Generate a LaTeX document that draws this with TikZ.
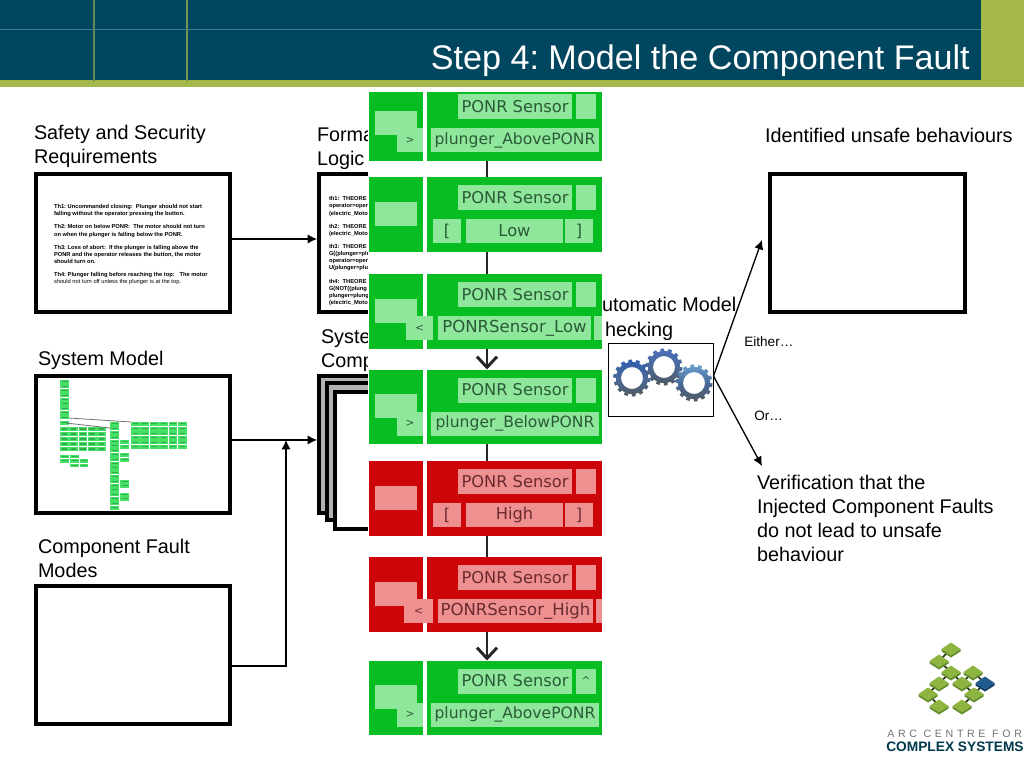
\documentclass[tikz,border=0pt]{standalone}
\usepackage{fontspec}
\setmainfont{Liberation Sans}
\newfontfamily\blockfont{DejaVu Sans}
\newfontfamily\arcfont[LetterSpace=34]{Liberation Sans}
\usetikzlibrary{arrows.meta}
\definecolor{headblue}{HTML}{00465F}
\definecolor{olive}{HTML}{A4B84C}
\definecolor{gdark}{HTML}{06BE22}
\definecolor{glight}{HTML}{8FE79B}
\definecolor{rdark}{HTML}{CC0508}
\definecolor{rlight}{HTML}{EE9090}
\definecolor{gtext}{HTML}{2B5A38}
\definecolor{rtext}{HTML}{6A2A30}
\definecolor{cell}{HTML}{45E065}
\definecolor{celld}{HTML}{2FB04A}
\definecolor{leaf}{HTML}{8DB53F}
\definecolor{leafd}{HTML}{668F2E}
\definecolor{leafblue}{HTML}{1F5B8F}
\definecolor{leafblued}{HTML}{123F66}
\definecolor{gearA}{HTML}{2F5FB0}
\definecolor{gearB}{HTML}{4A70B8}
\definecolor{gearC}{HTML}{6A9FD0}
\definecolor{gearMid}{HTML}{4A6A98}
\definecolor{gearLow}{HTML}{50585E}
\tikzset{
  frame/.style={draw=black,line width=3pt,fill=white,outer sep=1.5pt,inner sep=0pt},
  stackframe/.style={frame,fill=black!30},
  fillbox/.style={inner sep=0pt,outer sep=0pt},
  label/.style={inner sep=0pt,outer sep=0pt,anchor=north west,align=left,font=\fontsize{14.85}{18}\selectfont},
  tiny/.style={inner sep=0pt,outer sep=0pt,anchor=north west,align=left,font=\fontsize{4.3}{5.4}\selectfont\bfseries},
  smalllabel/.style={inner sep=0pt,anchor=base west,font=\fontsize{10.2}{11}\selectfont},
  flow/.style={draw=black!85,line width=2.2pt},
  flowhead/.style={flow,-{Straight Barb[length=8pt,width=15pt,line width=2.2pt]}},
  conn/.style={draw=black,line width=1pt,-{Latex[length=7pt,width=7pt]}},
}
\newcommand\rbx[7]{%
  \pgfmathsetmacro\rbw{(#5-#3)*0.75}\pgfmathsetmacro\rbh{(#6-#4)*0.75}%
  \node[#1,minimum width=\rbw pt,minimum height=\rbh pt] (#2) at ({(#3+#5)/2},{(#4+#6)/2}) {#7};}
\newcommand\ponrbase[6]{%
  \pgfmathsetmacro\ptt{#2}\pgfmathsetmacro\pbb{#2+74.5}%
  \pgfmathsetmacro\pss{#2+8}\pgfmathsetmacro\pee{#2+33}%
  \pgfmathsetmacro\prr{#2+42}\pgfmathsetmacro\pqq{#2+66}%
  \pgfmathsetmacro\pll{#2+24.5}\pgfmathsetmacro\pmm{#2+48.5}%
  \def\pdark{#3}\def\plight{#4}\def\ptext{#5}%
  \rbx{fillbox,fill=#3}{#1-left}{369}{\ptt}{423}{\pbb}{}
  \rbx{fillbox,fill=#3}{#1-right}{427}{\ptt}{602}{\pbb}{}
  \rbx{fillbox,fill=#4,text=#5,font=\blockfont\fontsize{12.2}{13}\selectfont}{#1-sensor}{458}{\pss}{572}{\pee}{PONR Sensor}
  \rbx{fillbox,fill=#4,text=#5,font=\blockfont\fontsize{8}{9}\selectfont}{#1-small}{576}{\pss}{596}{\pee}{#6}
  \coordinate (#1-t) at (487,\ptt);
  \coordinate (#1-b) at (487,\pbb);
  \def\pname{#1}%
}
\newcommand\ponrgt[2]{%
  \rbx{fillbox,fill=\plight}{\pname-la}{375}{\pll}{417}{\pmm}{}
  \rbx{fillbox,fill=\plight,text=\ptext,font=\blockfont\fontsize{8}{9}\selectfont}{\pname-lb}{397}{\prr}{423}{\pqq}{>}
  \rbx{fillbox,fill=\plight,text=\ptext,font=\blockfont\fontsize{11.7}{12}\selectfont}{\pname-row}{431}{\prr}{#1}{\pqq}{#2}
}
\newcommand\ponrbr[1]{%
  \rbx{fillbox,fill=\plight}{\pname-la}{375}{\pll}{417}{\pmm}{}
  \rbx{fillbox,fill=\plight,text=\ptext,font=\blockfont\fontsize{12.2}{13}\selectfont}{\pname-o}{433}{\prr}{461}{\pqq}{[}
  \rbx{fillbox,fill=\plight,text=\ptext,font=\blockfont\fontsize{12.2}{13}\selectfont}{\pname-v}{466}{\prr}{563}{\pqq}{#1}
  \rbx{fillbox,fill=\plight,text=\ptext,font=\blockfont\fontsize{12.2}{13}\selectfont}{\pname-c}{565}{\prr}{593}{\pqq}{]}
}
\newcommand\ponrlt[4]{%
  \rbx{fillbox,fill=\plight}{\pname-la}{375}{\pll}{417}{\pmm}{}
  \rbx{fillbox,fill=\plight,text=\ptext,font=\blockfont\fontsize{8}{9}\selectfont}{\pname-lb}{#1}{\prr}{433}{\pqq}{<}
  \rbx{fillbox,fill=\plight,text=\ptext,font=\blockfont\fontsize{12.4}{13}\selectfont}{\pname-row}{#2}{\prr}{#3}{\pqq}{#4}
  \pgfmathsetmacro\pxx{#3+3}%
  \rbx{fillbox,fill=\plight}{\pname-end}{\pxx}{\prr}{602}{\pqq}{}
}
\newcommand\gearat[3]{%
  \path[even odd rule,top color=#3,bottom color=gearLow,middle color=gearMid]
    plot[variable=\t,samples=281,domain=0:360]
      ({#1+(sin(14*\t)>0?18.5:16)*cos(\t)},{#2+(sin(14*\t)>0?18.5:16)*sin(\t)}) -- cycle
    (#1,#2) circle[radius=11];}
\newcommand\leafat[4]{%
  \fill[#4] (#1-9.5,#2) -- (#1,#2+6) -- (#1+9.5,#2) -- (#1+9.5,#2+2.5) -- (#1,#2+8.5) -- (#1-9.5,#2+2.5) -- cycle;
  \fill[#3] (#1-9.5,#2) -- (#1,#2-6.5) -- (#1+9.5,#2) -- (#1,#2+6) -- cycle;}
% one thumbnail cell: x, y, width, height
\newcommand\tcell[4]{%
  \fill[cell] ({#1},{#2}) rectangle ({#1+#3},{#2+#4});
  \fill[celld] ({#1+1.5},{#2+1.4}) rectangle ({#1+#3-1.5},{#2+#4-1.6});}
\begin{document}
\frenchspacing
\begin{tikzpicture}[x=0.75pt,y=-0.75pt]
\useasboundingbox (0,0) rectangle (1024,768);
\fill[white] (0,0) rectangle (1024,768);
% left column
\node[label] (safetylbl) at (34,125.5) {Safety and Security\\Requirements};
\rbx{frame}{safety}{36}{174}{230}{312}{}
\node[tiny] (safetytxt) at (54,204.5) {Th1: Uncommanded closing:~~Plunger should not start\\falling without the operator pressing the button.\\[4.4pt]Th2: Motor on below PONR:~~The motor should not turn\\on when the plunger is falling below the PONR.\\[4.4pt]Th3: Loss of abort:~~If the plunger is falling above the\\PONR and the operator releases the button, the motor\\should turn on.\\[4.4pt]Th4: Plunger falling before reaching the top:~~~The motor\\\mdseries should not turn off unless the plunger is at the top.};
\node[label] (sysmlbl) at (38,351.5) {System Model};
\rbx{frame}{sysmodel}{36}{376}{230}{513}{}
% thumbnail of the system model
\foreach \i in {0,...,8} {\tcell{60}{380+\i*4.4}{9}{4}}
\tcell{60}{420.5}{9}{4.5}
\foreach \r in {0,...,4} {\foreach \c in {0,...,4} {\tcell{60+\c*9.3}{427+\r*5}{8.6}{4.3}}}
\foreach \r in {0,...,5} {\foreach \c in {0,...,5} {\tcell{131+\c*9.4}{422+\r*4.6}{8.7}{4}}}
\foreach \r in {0,...,19} {\tcell{110}{422+\r*4.4}{9}{4}}
\foreach \y in {440,444.5,453,457.5,479.5,484,492.5,497} {\tcell{120}{\y}{9}{4}}
\tcell{60}{454.5}{9}{3.5}\tcell{70}{454.5}{9}{3.5}
\tcell{60}{459}{9}{3.5}\tcell{70}{459}{9}{3.5}\tcell{80}{459}{8}{3.5}
\tcell{70}{463.5}{9}{3.5}\tcell{80}{463.5}{8}{3.5}
\draw[black!55,line width=.6pt] (69,418) -- (131,422) (66,423) -- (110,428);
\node[label] (faultlbl) at (38,539.5) {Component Fault\\Modes};
\rbx{frame}{faults}{36}{586}{230}{724}{}
% middle column
\node[label] (logiclbl) at (317,128) {Forma\\Logic};
\rbx{frame}{formal}{319}{174}{420}{312}{}
\node[tiny] (formaltxt) at (329,196.5) {th1:~~THEORE\\operator=oper\\(electric\_Moto\\[4.4pt]th2:~~THEORE\\(electric\_Moto\\[4.4pt]th3:~~THEORE\\G((plunger=plu\\operator=oper\\U(plunger=plu\\[4.4pt]th4:~~THEORE\\G(NOT((plung\\plunger=plung\\(electric\_Moto};
\node[label] (stacklbl) at (321,330) {Syste\\Comp};
\rbx{stackframe}{stacka}{319}{376}{420}{513}{}
\rbx{stackframe}{stackb}{327}{383}{420}{520}{}
\rbx{frame}{stackc}{335}{392}{420}{529}{}
\draw[conn] ([yshift=3pt]safety.east) -- ([yshift=3pt]formal.west);
\draw[conn] ([yshift=3.4pt]sysmodel.east) -- ([yshift=3.4pt]stacka.west);
\coordinate (joint) at (286,440);
\draw[conn] ([yshift=-8.25pt]faults.east) -| (joint);
% stack of blocks
\fill[white] (368,85) rectangle (604,739);
\ponrbase{b1}{86}{gdark}{glight}{gtext}{}\ponrgt{599}{plunger\_AbovePONR}
\fill[white] (368,85) rectangle (604,92);
\ponrbase{b2}{177}{gdark}{glight}{gtext}{}\ponrbr{Low}
\ponrbase{b3}{274}{gdark}{glight}{gtext}{}\ponrlt{406}{438}{591}{PONRSensor\_Low}
\ponrbase{b4}{369.5}{gdark}{glight}{gtext}{}\ponrgt{599}{plunger\_BelowPONR}
\ponrbase{b5}{461}{rdark}{rlight}{rtext}{}\ponrbr{High}
\ponrbase{b6}{557}{rdark}{rlight}{rtext}{}\ponrlt{404}{438}{593}{PONRSensor\_High}
\ponrbase{b7}{660.5}{gdark}{glight}{gtext}{\textasciicircum}\ponrgt{599}{plunger\_AbovePONR}
\draw[flow] (b1-b) -- (b2-t);
\draw[flow] (b2-b) -- (b3-t);
\draw[flowhead] (b3-b) -- (b4-t);
\draw[flow] (b4-b) -- (b5-t);
\draw[flow] (b5-b) -- (b6-t);
\draw[flowhead] (b6-b) -- (b7-t);
% model checking
\node[label] (mclbl) at (602,297) {utomatic Model};
\node[label] (mclblb) at (605,322) {hecking};
\rbx{draw=black,line width=.75pt,fill=white,inner sep=0pt,outer sep=0pt}{gears}{608}{343}{713.5}{416}{}
\gearat{632}{378}{gearA}
\gearat{664}{367}{gearB}
\gearat{694}{383}{gearC}
\coordinate (unsafein) at (762,240);
\coordinate (verifyin) at (762,466);
\draw[conn] ([yshift=2.6pt]gears.east) -- (unsafein);
\draw[conn] ([yshift=2.6pt]gears.east) -- (verifyin);
\node[smalllabel] (either) at (744,346) {Either…};
\node[smalllabel] (orlbl) at (754,420) {Or…};
% right column
\node[label] (unsafelbl) at (765,128) {Identified unsafe behaviours};
\rbx{frame}{unsafe}{770}{174}{965}{312}{}
\node[label] (verifylbl) at (757,475) {Verification that the\\Injected Component Faults\\do not lead to unsafe\\behaviour};
% logo
\draw[black!70!leafd,line width=1.2pt] (951,649)--(939,661)--(951,672)--(939,683)--(928,694)--(939,706)
  (951,672)--(962,683)--(973,672) (962,683)--(974,694)--(962,706) (973,672)--(985,683)--(974,694);
\leafat{951}{649}{leaf}{leafd}\leafat{939}{661}{leaf}{leafd}\leafat{951}{672}{leaf}{leafd}\leafat{973}{672}{leaf}{leafd}
\leafat{939}{683}{leaf}{leafd}\leafat{962}{683}{leaf}{leafd}\leafat{974}{694}{leaf}{leafd}\leafat{928}{694}{leaf}{leafd}
\leafat{939}{706}{leaf}{leafd}\leafat{962}{706}{leaf}{leafd}\leafat{985}{683}{leafblue}{leafblued}
\node[inner sep=0pt,anchor=base west,text=black!55,font=\arcfont\fontsize{8}{9}\selectfont] (arc) at (887,737) {ARC CENTRE FOR};
\node[inner sep=0pt,anchor=base west,text=headblue!80!black,font=\bfseries\fontsize{10.3}{11}\selectfont] (cplx) at (886,751) {COMPLEX SYSTEMS};
% header
\fill[headblue] (0,0) rectangle (981,80);
\fill[olive] (0,80) rectangle (1024,87);
\fill[olive] (981,0) rectangle (1024,87);
\draw[olive!60!headblue,line width=.9pt] (94,0) -- (94,81);
\draw[olive!70!headblue,line width=1.4pt] (187,0) -- (187,81);
\draw[white!30!headblue,line width=.5pt] (0,29) -- (981,29);
\node[inner sep=0pt,anchor=base east,text=white,font=\fontsize{25.6}{30}\selectfont] (title) at (970,69) {Step 4: Model the Component Fault};
\end{tikzpicture}
\end{document}
